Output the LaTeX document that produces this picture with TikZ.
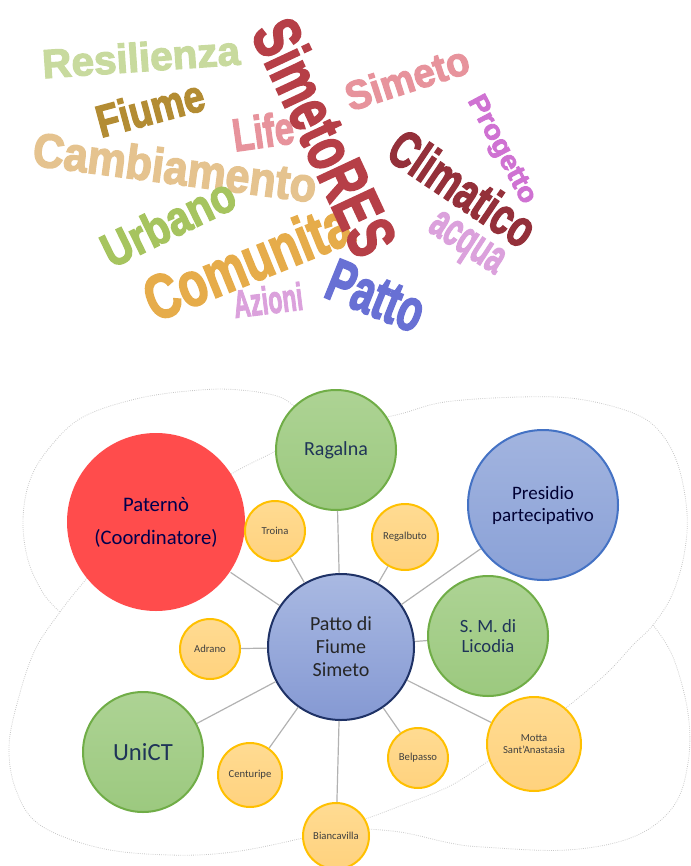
\documentclass[tikz,border=0pt]{standalone}
\usepackage{fontspec}
\setmainfont{Carlito}
\newfontfamily\cloudfont{Liberation Sans}[BoldFeatures={FakeBold=3}]
\usepackage{graphicx}

% word cloud colours
\definecolor{wcres}{HTML}{C8DA9E}
\definecolor{wcfiu}{HTML}{B38C33}
\definecolor{wccam}{HTML}{E5C38F}
\definecolor{wclif}{HTML}{E7939C}
\definecolor{wcurb}{HTML}{A6C45F}
\definecolor{wccom}{HTML}{E6AC4A}
\definecolor{wcazi}{HTML}{DBA1DC}
\definecolor{wcpat}{HTML}{6870D4}
\definecolor{wcsim}{HTML}{B63F47}
\definecolor{wcpro}{HTML}{CF72D2}
\definecolor{wccli}{HTML}{94303A}
% bubble colours
\definecolor{hubline}{HTML}{1F3266}
\definecolor{hubtop}{HTML}{A9B9E2}
\definecolor{hubbot}{HTML}{8599D3}
\definecolor{grnline}{HTML}{70AD47}
\definecolor{grntop}{HTML}{ADD394}
\definecolor{grnbot}{HTML}{9CC97F}
\definecolor{bluline}{HTML}{4472C4}
\definecolor{blutop}{HTML}{A2B4DF}
\definecolor{blubot}{HTML}{8AA1D7}
\definecolor{yelline}{HTML}{FFC000}
\definecolor{yeltop}{HTML}{FFDB92}
\definecolor{yelbot}{HTML}{FFD27E}
\definecolor{redfill}{HTML}{FF4C4C}
\definecolor{navytxt}{HTML}{1F3458}

\begin{document}
\begin{tikzpicture}[x=0.75pt, y=-0.75pt,
  word/.style={inner sep=0pt, font=\cloudfont\bfseries},
  bubble/.style={circle, inner sep=0pt, align=center, line width=1.5pt},
  hub/.style={bubble, draw=hubline, top color=hubtop, bottom color=hubbot,
    text=black!85, font=\fontsize{15}{17.25}\selectfont},
  greenbub/.style={bubble, draw=grnline, top color=grntop, bottom color=grnbot,
    text=navytxt, font=\fontsize{14}{15}\selectfont},
  bluebub/.style={bubble, draw=bluline, top color=blutop, bottom color=blubot,
    text=black!80!blue, font=\fontsize{14.25}{16.5}\selectfont},
  smallbub/.style={bubble, draw=yelline, top color=yeltop, bottom color=yelbot,
    text=black!75, font=\fontsize{8}{9}\selectfont},
  link/.style={draw=black!30, line width=0.9pt},
  outline/.style={draw=black!22, densely dotted, line width=0.6pt}]
  \useasboundingbox (0,0) rectangle (690,866);

  % word cloud
  \node[word, text=wcres, rotate=4] (wres) at (141,57) {\resizebox{148.5pt}{22pt}{Resilienza}};
  \node[word, text=wcfiu, rotate=15] (wfiu) at (150,108) {\resizebox{82.5pt}{24.5pt}{Fiume}};
  \node[word, text=wccam, rotate=-7.5] (wcam) at (175,167) {\resizebox{214pt}{26pt}{Cambiamento}};
  \node[word, text=wclif, rotate=8] (wlif) at (263,131) {\resizebox{46pt}{25pt}{Life}};
  \node[word, text=wcurb, rotate=26] (wurb) at (168,222) {\resizebox{107pt}{26pt}{Urbano}};
  \node[word, text=wccom, rotate=22] (wcom) at (247,261) {\resizebox{163pt}{34pt}{Comunita}};
  \node[word, text=wcazi, rotate=7] (wazi) at (268,300) {\resizebox{52pt}{21pt}{Azioni}};
  \node[word, text=wcpat, rotate=-22] (wpat) at (376,296) {\resizebox{75pt}{31pt}{Patto}};
  \node[word, text=wcsim, rotate=-65] (wsre) at (325,137) {\resizebox{189pt}{36pt}{SimetoRES}};
  \node[word, text=wclif, rotate=18] (wsim) at (407,78) {\resizebox{96pt}{22pt}{Simeto}};
  \node[word, text=wcpro, rotate=-62] (wpro) at (501,150) {\resizebox{89pt}{14pt}{Progetto}};
  \node[word, text=wccli, rotate=-34] (wcli) at (463,188) {\resizebox{124pt}{28.5pt}{Climatico}};
  \node[word, text=wcazi, rotate=-33] (wacq) at (465,246) {\resizebox{61pt}{19pt}{acqua}};

  % dotted background shapes
  \draw[outline] plot[smooth cycle, tension=0.6] coordinates {(300,432) (277,450)
    (233,473) (160,518) (110,553) (83,583) (60,612) (35,650) (18,700) (9,747)
    (16,790) (40,825) (100,848) (170,855) (233,852) (303,838) (336,828)
    (368,818) (400,806) (450,786) (490,760) (530,733) (567,707) (607,673)
    (633,645) (653,625) (672,595) (684,555) (687,513) (678,465) (660,432)
    (633,413) (578,399) (520,397) (445,402) (400,414) (350,425)};
  \draw[outline] plot[smooth, tension=0.6] coordinates {(300,412) (280,397)
    (240,390) (200,390) (140,398) (83,417) (50,447) (30,480) (23,520)
    (28,560) (43,593) (60,612)};
  \draw[outline] plot[smooth, tension=0.6] coordinates {(653,625) (673,657)
    (688,713) (688,763) (673,807) (633,837) (567,850) (483,847) (450,843)
    (400,832) (350,828)};

  % bubbles
  \node[hub, minimum size=109.5pt] (pfs) at (341,647) {Patto di\\Fiume\\Simeto};
  \node[greenbub, minimum size=90pt, font=\fontsize{15}{17}\selectfont] (rag) at (336,450) {Ragalna};
  \node[bubble, fill=redfill, minimum size=133.5pt, text=black!70!blue,
    font=\fontsize{15.5}{24.75}\selectfont] (pat) at (156,522) {Paternò\\(Coordinatore)};
  \node[bluebub, minimum size=112.5pt] (pre) at (543,505) {Presidio\\partecipativo};
  \node[greenbub, minimum size=90pt] (sml) at (488,636) {S. M. di\\Licodia};
  \node[greenbub, minimum size=90pt, font=\fontsize{18.5}{20}\selectfont] (uni) at (143,752) {UniCT};
  \node[smallbub, minimum size=45pt] (tro) at (275,531) {Troina};
  \node[smallbub, minimum size=49.5pt] (reg) at (405,537) {Regalbuto};
  \node[smallbub, minimum size=45pt] (adr) at (210,649) {Adrano};
  \node[smallbub, minimum size=48pt] (cen) at (250,775) {Centuripe};
  \node[smallbub, minimum size=49.5pt] (bia) at (336,836) {Biancavilla};
  \node[smallbub, minimum size=45pt] (bel) at (418,758) {Belpasso};
  \node[smallbub, minimum size=70.5pt] (mot) at (534,744) {Motta\\Sant’Anastasia};

  % spokes
  \foreach \n in {rag,pat,tro,reg,pre,sml,adr,uni,cen,bia,bel,mot}
    \draw[link] (pfs) -- (\n);

\end{tikzpicture}
\end{document}
